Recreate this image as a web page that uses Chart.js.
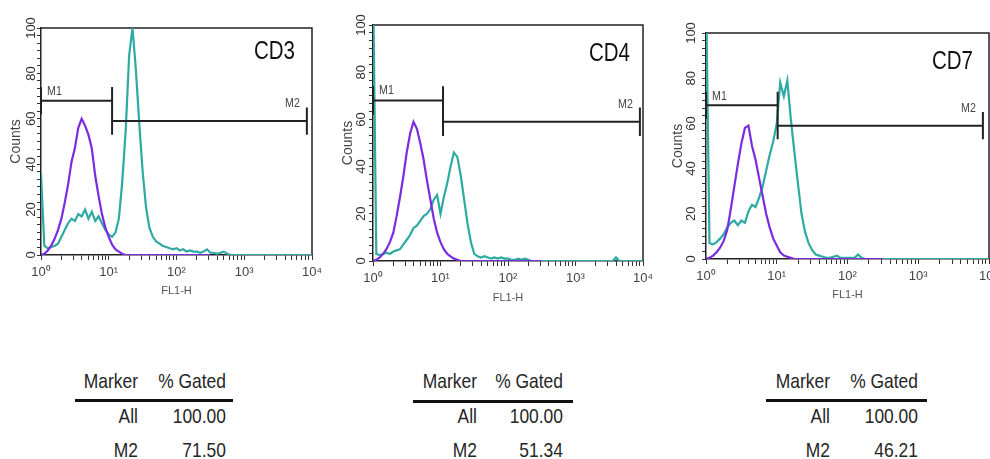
<!DOCTYPE html>
<html>
<head>
<meta charset="utf-8">
<title>CD3 / CD4 / CD7 FL1-H histograms</title>
<script src="https://cdn.jsdelivr.net/npm/chart.js@4.4.1/dist/chart.umd.min.js"></script>
<style>
  html, body { margin: 0; padding: 0; background: #fff; }
  body { width: 990px; height: 459px; position: relative; overflow: hidden; }
  canvas { position: absolute; }
  .cell {
    position: absolute; width: 160px; text-align: right; white-space: nowrap;
    font-family: "Liberation Sans", Arial, sans-serif;
    font-size: 21px; line-height: 21px; color: #262626;
    transform: scaleX(0.83); transform-origin: right center;
  }
  .rule { position: absolute; height: 3px; background: #111; }
</style>
</head>
<body>
<canvas id="cd3" width="330" height="305" style="left:0;top:0"></canvas>
<canvas id="cd4" width="330" height="310" style="left:330px;top:0"></canvas>
<canvas id="cd7" width="350" height="310" style="left:660px;top:0"></canvas>
<script>
"use strict";

// FL1-H channel values, 20 per decade from 10^0 to 10^4
const fl1 = [
  1.00, 1.12, 1.26, 1.41, 1.58, 1.78, 2.00, 2.24, 2.51, 2.82, 3.16, 3.55, 3.98, 4.47, 5.01, 5.62, 6.31, 7.08, 7.94, 8.91,
  10.0, 11.2, 12.6, 14.1, 15.8, 17.8, 20.0, 22.4, 25.1, 28.2, 31.6, 35.5, 39.8, 44.7, 50.1, 56.2, 63.1, 70.8, 79.4, 89.1,
  100, 112, 126, 141, 158, 178, 200, 224, 251, 282, 316, 355, 398, 447, 501, 562, 631, 708, 794, 891,
  1000, 1122, 1259, 1413, 1585, 1778, 1995, 2239, 2512, 2818, 3162, 3548, 3981, 4467, 5012, 5623, 6310, 7079, 7943, 8913,
  10000
];

// counts, isotype control (purple)
const cd3Iso = [
  0, 0.5, 2, 4, 7, 11, 16, 23, 31, 41, 47, 56, 60, 57, 53, 47, 35, 26, 18, 12,
  8, 4.5, 2.5, 1.5, 0.5, 0, 0, 0, 0, 0, 0, 0, 0, 0, 0, 0, 0, 0, 0, 0,
  0, 0, 0, 0, 0, 0, 0, 0, 0, 0, 0
];
const cd4Iso = [
  0, 0.5, 1.5, 3, 5, 8, 12, 19, 27, 36, 46, 54, 59, 56, 50, 43, 34, 26, 18, 12,
  8, 5, 3, 2, 1, 0.5, 0, 0, 0, 0, 0, 0, 0, 0, 0, 0, 0, 0, 0, 0,
  0, 0, 0, 0, 0, 0, 0, 0, 0, 0, 0
];
const cd7Iso = [
  0, 0.5, 1.5, 3, 5, 8, 13, 22, 32, 42, 51, 58, 59, 50, 44, 36, 28, 20, 14, 9,
  6, 3, 1.5, 1, 0.5, 0, 0, 0, 0, 0, 0, 0, 0, 0, 0, 0, 0, 0, 0, 0,
  0, 0, 0, 0, 0, 0, 0, 0, 0, 0, 0
];

// counts, stained sample (teal)
const cd3Stain = [
  36, 4, 3, 3.5, 4, 5, 8, 11, 14, 16, 15, 18, 17, 20, 16, 19, 15, 17, 14, 11,
  9, 8, 10, 16, 32, 55, 88, 100, 82, 58, 37, 21, 12, 8, 6, 5, 4, 3.5, 3, 2.5,
  3, 2, 2.5, 1.5, 2, 1.5, 1.5, 1, 1.5, 2.5, 1, 1, 0.5, 1, 1.5, 0.5, 0, 0, 0, 0,
  0, 0, 0, 0, 0, 0, 0, 0, 0, 0, 0, 0, 0, 0, 0, 0, 0, 0, 0, 0,
  0
];
const cd4Stain = [
  120, 3, 2.5, 3, 3.5, 3, 4, 4.5, 5, 7, 9, 11, 14, 15, 17, 19, 20, 22, 26, 28,
  20, 27, 33, 40, 46, 44, 36, 26, 16, 8, 3, 2, 1.5, 2, 1.5, 1, 1.5, 1, 1.5, 1,
  1, 0.5, 0.5, 1, 0.5, 1, 0.5, 0, 0, 0, 0, 0, 0, 0, 0, 0, 0, 0, 0, 0,
  0, 0, 0, 0, 0, 0, 0, 0, 0, 0, 0, 0, 1.5, 0, 0, 0, 0, 0, 0, 0,
  0
];
const cd7Stain = [
  120, 7, 6.5, 7.5, 9, 11, 14, 16, 17, 15, 17, 16, 21, 24, 23, 27, 32, 39, 46, 52,
  60, 78, 72, 79, 62, 47, 33, 20, 12, 7, 4, 2, 1.5, 1, 0.5, 0.5, 1, 1.5, 0.5, 0.5,
  0.5, 0.5, 0.5, 2, 0.5, 0, 0, 0, 0, 0, 0, 0, 0, 0, 0, 0, 0, 0, 0, 0,
  0, 0, 0, 0, 0, 0, 0, 0, 0, 0, 0, 0, 0, 0, 0, 0, 0, 0, 0, 0,
  0
];

const xMajor = [1, 10, 100, 1000, 10000];
const xTickLabels = ["10\u2070", "10\u00b9", "10\u00b2", "10\u00b3", "10\u2074"];
const yTickLabels = [0, 20, 40, 60, 80, 100];

// marker gates: [M1 start, M1 end = M2 start, M2 end] on FL1-H
const gateNames = ["M1", "M2"];
const gateLevels = [68, 59];
const cd3Gates = [1, 11.2, 8400];
const cd4Gates = [1, 10.9, 9000];
const cd7Gates = [1, 10.3, 8200];

const tableHead = ["Marker", "% Gated"];
const tableMarkers = ["All", "M2"];
const cd3Gated = [100.00, 71.50];
const cd4Gated = [100.00, 51.34];
const cd7Gated = [100.00, 46.21];

const PURPLE = "#7b2be0";
const TEAL = "#2eaaa3";
const INK = "#222";
const SANS = "'Liberation Sans', Arial, sans-serif";
const CAP = 6;
const SQUEEZE = 0.82;

const panels = [
  { id: "cd3", name: "CD3", iso: cd3Iso, stain: cd3Stain, gates: cd3Gates, gated: cd3Gated,
    pad: { left: 0, top: 28, right: 18, bottom: 0 }, yw: 41, xh: 50, xtPad: 7, ytPad: 8, yLabPad: -5,
    nameDx: 17, nameDy: 24, tbl: { c1: 138, c2: 226, r0: 75, r1: 233, ruleY: 399 } },
  { id: "cd4", name: "CD4", iso: cd4Iso, stain: cd4Stain, gates: cd4Gates, gated: cd4Gated,
    pad: { left: 0, top: 25, right: 17, bottom: 0 }, yw: 43, xh: 49, xtPad: 5, ytPad: 10, yLabPad: -3.5,
    nameDx: 13, nameDy: 29, tbl: { c1: 477, c2: 563, r0: 413, r1: 573, ruleY: 400 } },
  { id: "cd7", name: "CD7", iso: cd7Iso, stain: cd7Stain, gates: cd7Gates, gated: cd7Gated,
    pad: { left: 0, top: 33, right: 21, bottom: 0 }, yw: 46, xh: 51, xtPad: 8, ytPad: 10, yLabPad: -0.5,
    nameDx: 16, nameDy: 29, tbl: { c1: 830, c2: 918, r0: 766, r1: 927, ruleY: 399 } }
];

function toPoints(counts) {
  return counts.map((c, i) => ({ x: fl1[i], y: c }));
}

function gatePoints(g) {
  const pts = [];
  for (let k = 0; k < 2; k++) {
    const a = g[k], b = g[k + 1], lv = gateLevels[k];
    pts.push({ x: a, y: lv + CAP }, { x: a, y: lv - CAP }, { x: a, y: null },
      { x: a, y: lv }, { x: b, y: lv }, { x: b, y: null },
      { x: b, y: lv + CAP }, { x: b, y: lv - CAP }, { x: b, y: null });
  }
  return pts;
}

function logTicks() {
  const t = [];
  for (let e = 0; e < 4; e++) {
    for (let d = 1; d < 10; d++) t.push({ value: d * Math.pow(10, e) });
  }
  t.push({ value: 10000 });
  return t;
}

function countTicks() {
  const t = [];
  for (let k = 0; k <= 30; k++) t.push({ value: k * 10 / 3 });
  return t;
}

// condensed text, like the scanned figure
function narrowText(ctx, text, x, y) {
  ctx.save();
  ctx.translate(x, y);
  ctx.scale(SQUEEZE, 1);
  ctx.fillText(text, 0, 0);
  ctx.restore();
}

const annotate = {
  id: "annotate",
  beforeDatasetsDraw(chart) {
    const { ctx, chartArea: a } = chart;
    ctx.save();
    ctx.strokeStyle = INK;
    ctx.lineWidth = 1.5;
    ctx.beginPath();
    ctx.moveTo(a.left, a.top);
    ctx.lineTo(a.right, a.top);
    ctx.lineTo(a.right, a.bottom);
    ctx.stroke();
    ctx.restore();
  },
  afterDatasetsDraw(chart, args, opts) {
    const { ctx, chartArea: a, scales: { x, y } } = chart;
    const g = opts.gates;
    ctx.save();
    ctx.fillStyle = "#111";
    ctx.font = "25px " + SANS;
    ctx.textAlign = "right";
    ctx.textBaseline = "middle";
    narrowText(ctx, opts.name, a.right - opts.nameDx, a.top + opts.nameDy);

    ctx.fillStyle = "#444";
    ctx.font = "13px " + SANS;
    ctx.textBaseline = "alphabetic";
    ctx.textAlign = "left";
    narrowText(ctx, gateNames[0], x.getPixelForValue(g[0]) + 6, y.getPixelForValue(gateLevels[0] + CAP) + 8);
    ctx.textAlign = "right";
    narrowText(ctx, gateNames[1], x.getPixelForValue(g[2]) - 7, y.getPixelForValue(gateLevels[1] + CAP));
    ctx.restore();
  }
};

function makeChart(p) {
  const canvas = document.getElementById(p.id);
  return new Chart(canvas, {
    type: "line",
    data: {
      datasets: [
        { label: "gates", data: gatePoints(p.gates), borderColor: INK, borderWidth: 2, pointRadius: 0, tension: 0 },
        { label: "isotype", data: toPoints(p.iso), borderColor: PURPLE, borderWidth: 2.2, pointRadius: 0, tension: 0 },
        { label: p.name, data: toPoints(p.stain), borderColor: TEAL, borderWidth: 2.2, pointRadius: 0, tension: 0 }
      ]
    },
    options: {
      responsive: false,
      animation: false,
      events: [],
      layout: { padding: p.pad },
      plugins: {
        legend: { display: false },
        tooltip: { enabled: false },
        annotate: { name: p.name, gates: p.gates, nameDx: p.nameDx, nameDy: p.nameDy }
      },
      scales: {
        x: {
          type: "logarithmic",
          min: 1,
          max: 10000,
          afterBuildTicks: (s) => { s.ticks = logTicks(); },
          afterFit: (s) => { s.height = p.xh; },
          ticks: {
            autoSkip: false, minRotation: 0, maxRotation: 0, padding: 5,
            color: "#444", font: { family: SANS, size: 13 },
            callback: (v) => {
              const i = xMajor.indexOf(v);
              return i >= 0 ? xTickLabels[i] : "";
            }
          },
          grid: { display: true, drawOnChartArea: false, drawTicks: true, tickLength: 5, tickColor: "#333", tickWidth: 1 },
          border: { display: true, color: INK, width: 1.5 },
          title: { display: true, text: "FL1-H", color: "#555", font: { family: SANS, size: 11 }, padding: { top: 0, bottom: p.xtPad } }
        },
        y: {
          type: "linear",
          min: 0,
          max: 100,
          afterBuildTicks: (s) => { s.ticks = countTicks(); },
          afterFit: (s) => { s.width = p.yw; },
          ticks: {
            autoSkip: false, minRotation: 90, maxRotation: 90, crossAlign: "center", padding: p.yLabPad,
            color: "#333", font: { family: SANS, size: 13 },
            callback: (v) => {
              const r = Math.round(v);
              return Math.abs(v - r) < 1e-6 && yTickLabels.includes(r) ? String(r) : "";
            }
          },
          grid: { display: true, drawOnChartArea: false, drawTicks: true, tickLength: 4, tickColor: "#333", tickWidth: 1 },
          border: { display: true, color: INK, width: 1.5 },
          title: { display: true, text: "Counts", color: "#444", font: { family: SANS, size: 14 }, padding: { top: p.ytPad, bottom: 0 } }
        }
      }
    },
    plugins: [annotate]
  });
}

function cell(text, xRight, top) {
  const d = document.createElement("div");
  d.className = "cell";
  d.textContent = text;
  d.style.left = (xRight - 160) + "px";
  d.style.top = top + "px";
  document.body.appendChild(d);
}

function makeTable(p) {
  const t = p.tbl;
  cell(tableHead[0], t.c1, 370);
  cell(tableHead[1], t.c2, 370);
  const r = document.createElement("div");
  r.className = "rule";
  r.style.left = t.r0 + "px";
  r.style.width = (t.r1 - t.r0) + "px";
  r.style.top = t.ruleY + "px";
  document.body.appendChild(r);
  const rowTops = [405, 439];
  tableMarkers.forEach((m, i) => {
    cell(m, t.c1, rowTops[i]);
    cell(p.gated[i].toFixed(2), t.c2, rowTops[i]);
  });
}

panels.forEach((p) => {
  makeChart(p);
  makeTable(p);
});
</script>
</body>
</html>
